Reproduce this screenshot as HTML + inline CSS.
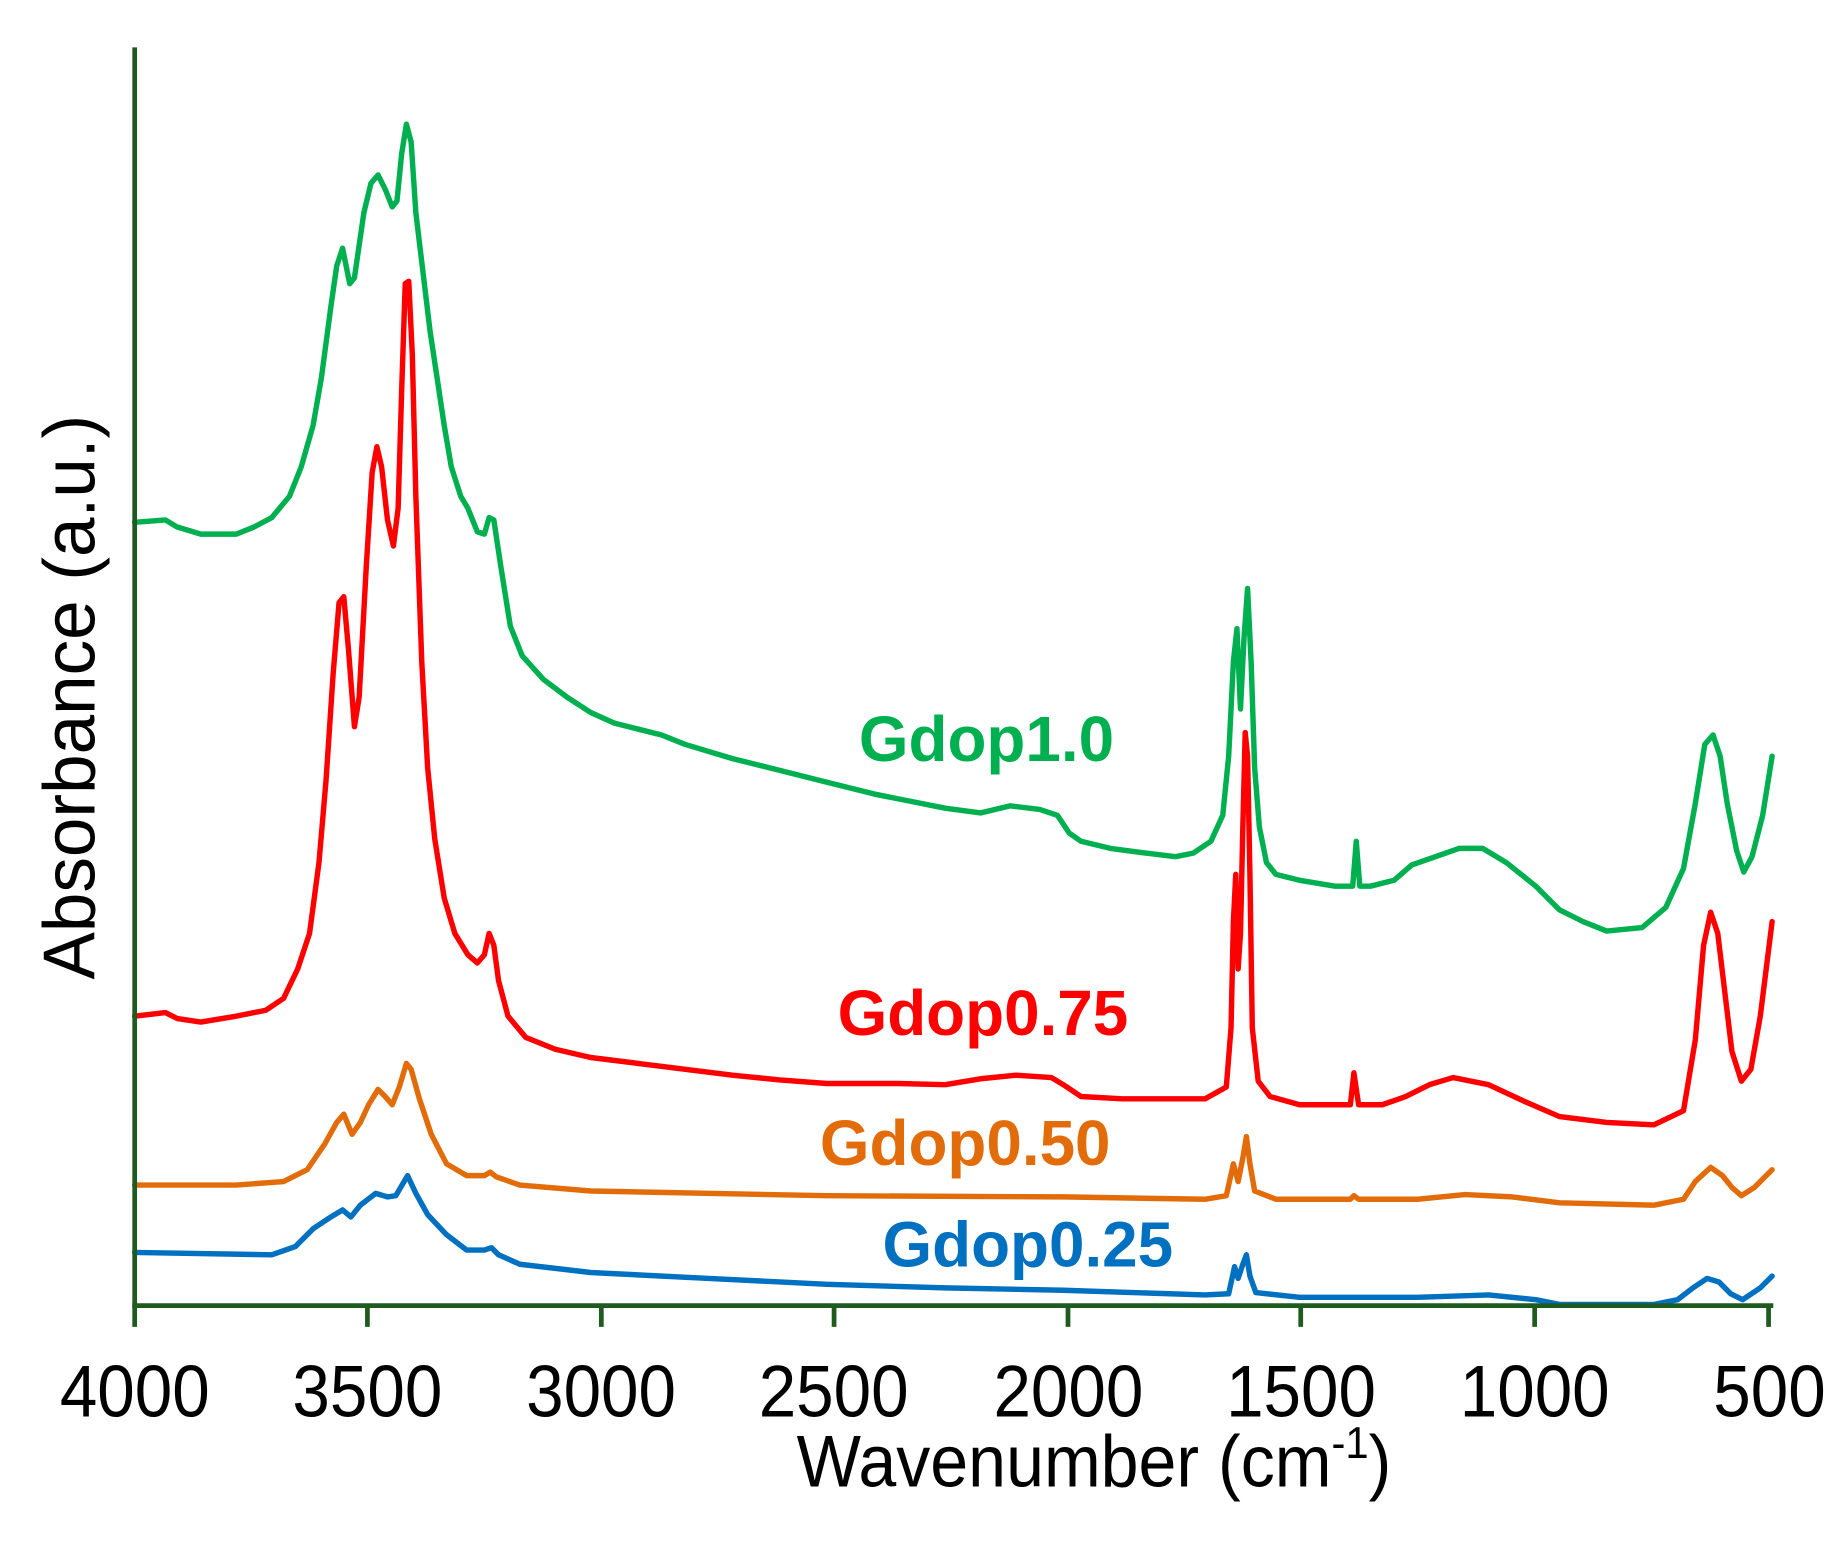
<!DOCTYPE html>
<html><head><meta charset="utf-8"><style>html,body{margin:0;padding:0;background:#fff}svg{display:block}</style></head>
<body>
<svg width="1843" height="1542" viewBox="0 0 1560 1305" xmlns="http://www.w3.org/2000/svg" font-family="Liberation Sans, sans-serif">
<rect width="1560" height="1305" fill="#fff"/>
<g fill="none" stroke-width="4.6" stroke-linejoin="round" stroke-linecap="round">
<polyline stroke="#00b050" points="114,442 140,440 150,446 170,452 200,452 215,446 230,438 245,420 255,395 265,360 272,320 280,260 285,225 290,210 296,240 300,235 308,180 314,155 320,148 326,160 332,175 336,170 340,130 344,105 348,120 352,180 358,230 364,280 370,320 376,360 382,395 390,420 396,430 404,450 410,452 414,438 418,440 424,480 432,530 442,555 460,575 480,590 500,603 520,612 540,617 560,622 580,630 620,642 660,652 700,662 740,672 770,678 800,684 830,688 855,682 880,685 895,690 905,705 915,712 940,718 970,722 995,725 1010,722 1025,712 1035,690 1040,640 1044,560 1047,532 1050,600 1053,540 1056,498 1059,560 1062,650 1066,700 1072,730 1080,740 1100,745 1130,750 1145,750 1148,712 1151,750 1160,750 1180,745 1195,732 1215,725 1235,718 1255,718 1275,730 1300,750 1320,770 1340,780 1360,788 1390,785 1410,768 1425,735 1435,680 1443,630 1450,622 1456,640 1462,680 1470,720 1476,738 1483,725 1492,690 1500,640"/>
<polyline stroke="#ff0000" points="114,860 140,857 150,862 170,865 200,860 225,855 240,845 252,820 262,790 270,730 276,660 282,570 287,510 291,505 295,550 300,615 304,590 310,480 315,400 319,378 323,395 328,440 333,462 337,430 340,330 343,240 346,238 349,300 352,420 357,560 362,650 368,710 376,760 385,790 396,808 404,815 410,808 414,790 418,800 422,830 430,860 445,878 470,888 500,895 540,900 580,905 620,910 660,914 700,917 760,917 800,918 830,913 860,910 890,912 900,918 915,928 950,930 990,930 1020,930 1038,920 1042,870 1044,780 1046,740 1048,820 1050,790 1052,700 1054,620 1056,640 1058,740 1060,870 1065,915 1075,928 1100,935 1143,935 1146,908 1150,935 1170,935 1190,928 1210,918 1230,912 1260,918 1290,932 1320,945 1360,950 1400,952 1425,940 1435,880 1442,800 1448,772 1454,790 1460,840 1466,890 1474,915 1482,905 1490,860 1500,780"/>
<polyline stroke="#e36c0a" points="114,1003 200,1003 240,1000 260,990 275,968 285,950 291,943 298,960 305,950 312,935 320,922 326,928 332,935 338,920 344,900 348,905 355,930 365,960 378,985 395,995 410,995 415,992 420,996 440,1003 500,1008 700,1012 900,1013 1020,1015 1038,1012 1044,985 1048,1000 1052,980 1055,962 1058,985 1062,1008 1080,1015 1143,1015 1146,1012 1150,1015 1200,1015 1240,1011 1280,1013 1320,1018 1400,1020 1425,1015 1435,1000 1448,988 1458,995 1466,1005 1474,1012 1485,1005 1500,990"/>
<polyline stroke="#0070c0" points="114,1060 230,1062 250,1055 265,1040 280,1030 290,1024 297,1030 305,1020 318,1010 328,1013 335,1012 345,995 352,1010 362,1028 378,1045 395,1058 410,1058 416,1056 422,1062 440,1070 500,1077 600,1082 700,1087 800,1090 900,1092 1020,1096 1040,1095 1045,1072 1048,1082 1052,1070 1055,1062 1058,1080 1063,1094 1100,1098 1200,1098 1260,1096 1300,1100 1320,1104 1400,1104 1420,1100 1433,1090 1445,1082 1455,1085 1465,1095 1475,1100 1490,1090 1500,1080"/>
</g>
<g stroke="#1f5a1f" stroke-width="4" fill="none">
<line x1="114" y1="40" x2="114" y2="1107"/>
<line x1="112" y1="1105" x2="1501" y2="1105"/>
<path d="M114 1105V1123M311 1105V1123M509 1105V1123M706 1105V1123M904 1105V1123M1101 1105V1123M1299 1105V1123M1497 1105V1123"/>
</g>
<g font-size="62" fill="#000" text-anchor="middle">
<g transform="translate(0,1199) scale(0.92,1)">
<text x="124" y="0">4000</text><text x="338" y="0">3500</text><text x="553" y="0">3000</text><text x="767" y="0">2500</text><text x="983" y="0">2000</text><text x="1197" y="0">1500</text><text x="1412" y="0">1000</text><text x="1628" y="0">500</text>
</g>
<text x="926" y="1258" transform="translate(926,0) scale(0.93,1) translate(-926,0)">Wavenumber (cm<tspan font-size="38" dy="-24">-1</tspan><tspan dy="24">)</tspan></text>
<text transform="translate(80,590) rotate(-90) scale(0.97,1)">Absorbance (a.u.)</text>
</g>
<g font-size="54" font-weight="bold" text-anchor="middle">
<text x="835" y="644" fill="#00b050">Gdop1.0</text>
<text x="832" y="876" fill="#ff0000">Gdop0.75</text>
<text x="817" y="986" fill="#e36c0a">Gdop0.50</text>
<text x="870" y="1072" fill="#0070c0">Gdop0.25</text>
</g>
</svg>
</body></html>
